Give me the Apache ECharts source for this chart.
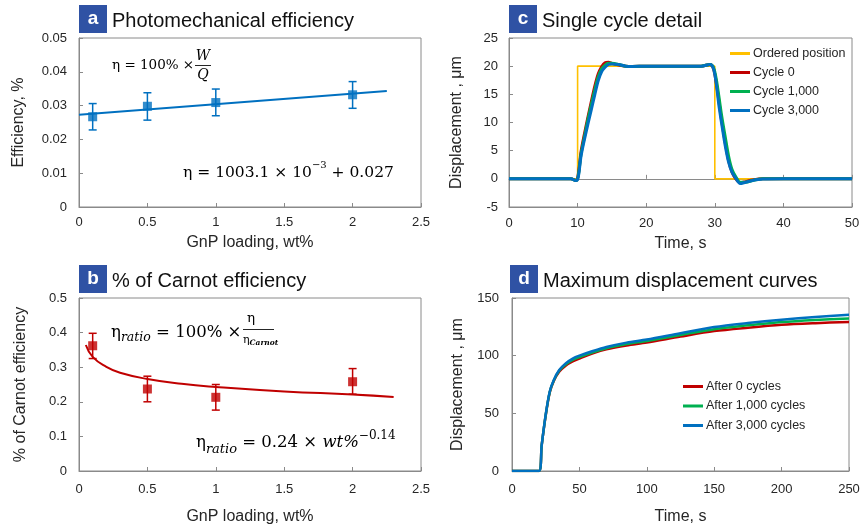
<!DOCTYPE html>
<html>
<head>
<meta charset="utf-8">
<script src="https://cdn.jsdelivr.net/npm/echarts@6/dist/echarts.min.js"></script>
<style>
html,body{margin:0;padding:0;background:#fff;}
#chart{width:863px;height:531px;}
</style>
</head>
<body>
<div id="chart"></div>
<script>
// ---------- Panel a: photomechanical efficiency ----------
const gnpLoading = [0.1, 0.5, 1, 2];
const effMean = [0.0267, 0.0298, 0.0309, 0.0332];
const effLow = [0.0228, 0.0257, 0.0270, 0.0292];
const effHigh = [0.0306, 0.0338, 0.0349, 0.0371];
const effFitX = [0, 2.25];
const effFitY = [0.0273, 0.0343];

// ---------- Panel b: % of Carnot efficiency ----------
const carnotMean = [0.362, 0.237, 0.213, 0.258];
const carnotLow = [0.325, 0.200, 0.176, 0.222];
const carnotHigh = [0.398, 0.274, 0.250, 0.296];
const carnotFitX = [0.05, 0.1, 0.2, 0.3, 0.5, 0.75, 1, 1.5, 2, 2.3];
const carnotFitY = [0.364, 0.330, 0.301, 0.284, 0.266, 0.252, 0.243, 0.230, 0.221, 0.214];

// ---------- Panel c: single cycle detail ----------
const orderedT = [0, 10, 10, 30, 30, 50];
const orderedY = [0, 0, 20, 20, 0, 0];
const cycleT = [0, 9, 9.8, 10.1, 10.5, 11, 11.5, 12, 12.5, 13, 13.5, 14, 14.5, 15, 16, 17, 18, 20, 25, 28, 29.3, 29.8, 30.2, 30.6, 31, 31.5, 32, 32.5, 33, 33.7, 34.5, 35.5, 37, 40, 50];
const cycle0 = [0, 0, -0.3, 0.8, 4.8, 8.0, 10.9, 13.7, 16.4, 18.6, 19.9, 20.6, 20.7, 20.5, 20.2, 20.0, 19.95, 20, 20, 20, 20.3, 19.6, 17.2, 13.8, 10.3, 6.6, 3.3, 1.2, 0.1, -0.7, -0.5, -0.2, 0, 0, 0];
const cycle1000 = [0, 0, -0.3, 0.6, 4.4, 7.5, 10.5, 13.2, 15.8, 18.1, 19.5, 20.2, 20.5, 20.5, 20.3, 20.0, 19.95, 20, 20, 20, 20.3, 19.8, 17.8, 14.6, 11.2, 7.6, 4.1, 1.7, 0.5, -0.6, -0.6, -0.3, 0, 0, 0];
const cycle3000 = [0, 0, -0.3, 0.3, 4.0, 7.0, 9.7, 12.3, 14.9, 17.4, 19.0, 19.8, 20.3, 20.4, 20.3, 20.0, 19.95, 20, 20, 20, 20.3, 19.6, 17.0, 13.0, 9.8, 6.0, 3.0, 1.2, 0.2, -0.85, -0.6, -0.3, -0.05, 0, 0];

// ---------- Panel d: maximum displacement curves ----------
const maxT = [0, 20, 22, 25, 28, 31, 35, 40, 45, 50, 60, 70, 85, 100, 125, 150, 175, 200, 225, 250];
const after0 = [0, 0, 22, 48, 68, 78, 86, 91.5, 95, 97.5, 102, 105.5, 108.8, 111.3, 116.5, 121.3, 124.3, 126.8, 128.2, 129.2];
const after1000 = [0, 0, 22, 48.5, 68.5, 78.5, 87, 92.5, 96.3, 98.8, 103, 106.5, 110, 112.8, 118, 123, 126.3, 129.2, 131, 132.3];
const after3000 = [0, 0, 22, 49, 69, 79, 87.5, 93.5, 97.5, 100, 104, 107.5, 111.3, 114, 119.5, 124.8, 128.3, 131.2, 133.5, 135.5];

const zip = (a, b) => a.map((v, i) => [v, b[i]]);
const zip3 = (a, b, c) => a.map((v, i) => [v, b[i], c[i]]);

const BLUE = '#0070C0', RED = '#C00000', GREEN = '#00B050', GOLD = '#FFC000';
const AXC = '#8a8a8a';
const FONT = 'Liberation Sans';
const SERIF = 'DejaVu Serif';
const TXT = '#262626';

function baseAxis(extra) {
  return Object.assign({
    type: 'value',
    axisLine: { show: true, onZero: false, lineStyle: { color: AXC, width: 1 } },
    axisTick: { show: true, inside: true, length: 4, lineStyle: { color: AXC } },
    splitLine: { show: false },
    axisLabel: { color: TXT, fontSize: 13, fontFamily: FONT },
    nameLocation: 'middle',
    nameTextStyle: { color: TXT, fontSize: 16, fontFamily: FONT }
  }, extra);
}

function errorBar(name, color, xi, yi, data) {
  return {
    type: 'custom', name: name, xAxisIndex: xi, yAxisIndex: yi,
    encode: { x: 0, y: [1, 2] },
    data: data, z: 2,
    renderItem: function (params, api) {
      const x = api.value(0), lo = api.value(1), hi = api.value(2);
      const p1 = api.coord([x, lo]), p2 = api.coord([x, hi]);
      const w = 4;
      const st = { stroke: color, lineWidth: 1.5, fill: null };
      return {
        type: 'group', children: [
          { type: 'line', shape: { x1: p1[0], y1: p1[1], x2: p2[0], y2: p2[1] }, style: st },
          { type: 'line', shape: { x1: p1[0] - w, y1: p1[1], x2: p1[0] + w, y2: p1[1] }, style: st },
          { type: 'line', shape: { x1: p2[0] - w, y1: p2[1], x2: p2[0] + w, y2: p2[1] }, style: st }
        ]
      };
    }
  };
}

function titleBox(x, y, letter, title) {
  return [
    { type: 'rect', shape: { x: x, y: y, width: 28, height: 28 }, style: { fill: '#2F52A4' } },
    { type: 'text', x: x + 14, y: y + 14, style: { text: letter, fill: '#fff', font: 'bold 19px ' + FONT, align: 'center', verticalAlign: 'middle' } },
    { type: 'text', x: x + 33, y: y + 16, style: { text: title, fill: '#111', font: '20px ' + FONT, align: 'left', verticalAlign: 'middle' } }
  ];
}

const richA2 = {
  m: { fontSize: 15.5, fontFamily: SERIF, lineHeight: 26, color: TXT },
  sup: { fontSize: 10, fontFamily: SERIF, lineHeight: 12, verticalAlign: 'top', color: TXT }
};
const richB2 = {
  m: { fontSize: 16.5, fontFamily: SERIF, lineHeight: 26, color: TXT },
  mi: { fontSize: 16.5, fontFamily: SERIF, fontStyle: 'italic', lineHeight: 26, color: TXT },
  sub: { fontSize: 13, fontFamily: SERIF, fontStyle: 'italic', lineHeight: 13, verticalAlign: 'bottom', color: TXT },
  sup: { fontSize: 12, fontFamily: SERIF, lineHeight: 12, verticalAlign: 'top', color: TXT }
};
const richA1 = {
  m: { fontSize: 13.5, fontFamily: SERIF, lineHeight: 20, color: TXT },
  mi: { fontSize: 14, fontFamily: SERIF, fontStyle: 'italic', lineHeight: 20, color: TXT }
};
const richB1 = {
  m: { fontSize: 16.5, fontFamily: SERIF, lineHeight: 22, color: TXT },
  sub: { fontSize: 12.5, fontFamily: SERIF, fontStyle: 'italic', lineHeight: 12, verticalAlign: 'bottom', color: TXT }
};
const richB1d = {
  m: { fontSize: 11, fontFamily: SERIF, lineHeight: 15, color: TXT },
  sub: { fontSize: 7.5, fontFamily: SERIF, fontStyle: 'italic', fontWeight: 'bold', lineHeight: 8, verticalAlign: 'bottom', color: TXT }
};

const graphics = [].concat(
  titleBox(79, 5, 'a', 'Photomechanical efficiency'),
  titleBox(79, 265, 'b', '% of Carnot efficiency'),
  titleBox(509, 5, 'c', 'Single cycle detail'),
  titleBox(510, 265, 'd', 'Maximum displacement curves'),
  [
    // panel a formulas
    { type: 'text', x: 112, y: 65, style: { text: '{m|η = 100% ×}', rich: richA1, align: 'left', verticalAlign: 'middle' } },
    { type: 'text', x: 203, y: 56, style: { text: '{mi|W}', rich: richA1, align: 'center', verticalAlign: 'middle' } },
    { type: 'line', shape: { x1: 195, y1: 65.5, x2: 211, y2: 65.5 }, style: { stroke: TXT, lineWidth: 1 } },
    { type: 'text', x: 203, y: 75, style: { text: '{mi|Q}', rich: richA1, align: 'center', verticalAlign: 'middle' } },
    { type: 'text', x: 183, y: 173, style: { text: '{m|η = 1003.1 × 10}{sup|−3}{m| + 0.027}', rich: richA2, align: 'left', verticalAlign: 'middle' } },
    // panel b formulas
    { type: 'text', x: 111, y: 333, style: { text: '{m|η}{sub|ratio}{m| = 100% ×}', rich: richB1, align: 'left', verticalAlign: 'middle' } },
    { type: 'text', x: 251, y: 318, style: { text: '{m|η}', rich: richA1, align: 'center', verticalAlign: 'middle' } },
    { type: 'line', shape: { x1: 243, y1: 329.5, x2: 274, y2: 329.5 }, style: { stroke: TXT, lineWidth: 1 } },
    { type: 'text', x: 243, y: 340, style: { text: '{m|η}{sub|Carnot}', rich: richB1d, align: 'left', verticalAlign: 'middle' } },
    { type: 'text', x: 196, y: 443, style: { text: '{m|η}{sub|ratio}{m| = 0.24 × }{mi|wt%}{sup|−0.14}', rich: richB2, align: 'left', verticalAlign: 'middle' } }
  ]
);

const option = {
  backgroundColor: '#fff',
  animation: false,
  textStyle: { fontFamily: FONT },
  grid: [
    { left: 79, top: 38, width: 342, height: 169, show: true, borderColor: AXC, borderWidth: 1 },
    { left: 79, top: 298, width: 342, height: 173, show: true, borderColor: AXC, borderWidth: 1 },
    { left: 509, top: 38, width: 343, height: 169, show: true, borderColor: AXC, borderWidth: 1 },
    { left: 512, top: 298, width: 337, height: 173, show: true, borderColor: AXC, borderWidth: 1 }
  ],
  xAxis: [
    baseAxis({ gridIndex: 0, min: 0, max: 2.5, interval: 0.5, name: 'GnP loading, wt%', nameGap: 28, axisLabel: { color: TXT, fontSize: 13, fontFamily: FONT, margin: 9 } }),
    baseAxis({ gridIndex: 1, min: 0, max: 2.5, interval: 0.5, name: 'GnP loading, wt%', nameGap: 38, axisLabel: { color: TXT, fontSize: 13, fontFamily: FONT, margin: 12 } }),
    baseAxis({ gridIndex: 2, min: 0, max: 50, interval: 10, name: 'Time, s', nameGap: 29, axisLabel: { color: TXT, fontSize: 13, fontFamily: FONT, margin: 10 } }),
    baseAxis({ gridIndex: 3, min: 0, max: 250, interval: 50, name: 'Time, s', nameGap: 38, axisLabel: { color: TXT, fontSize: 13, fontFamily: FONT, margin: 12 } }),
    // zero line for panel c
    { type: 'value', gridIndex: 2, position: 'top', min: 0, max: 50, interval: 10,
      axisLine: { show: true, onZero: true, lineStyle: { color: AXC, width: 1 } },
      axisTick: { show: true, inside: false, length: 4, lineStyle: { color: AXC } },
      axisLabel: { show: false }, splitLine: { show: false } }
  ],
  yAxis: [
    baseAxis({ gridIndex: 0, min: 0, max: 0.05, interval: 0.01, name: 'Efficiency, %', nameGap: 52, axisLabel: { color: TXT, fontSize: 13, fontFamily: FONT, margin: 12 } }),
    baseAxis({ gridIndex: 1, min: 0, max: 0.5, interval: 0.1, name: '% of Carnot efficiency', nameGap: 50, axisLabel: { color: TXT, fontSize: 13, fontFamily: FONT, margin: 12 } }),
    baseAxis({ gridIndex: 2, min: -5, max: 25, interval: 5, name: 'Displacement , μm', nameGap: 44, axisLabel: { color: TXT, fontSize: 13, fontFamily: FONT, margin: 11 } }),
    baseAxis({ gridIndex: 3, min: 0, max: 150, interval: 50, name: 'Displacement , μm', nameGap: 46, axisLabel: { color: TXT, fontSize: 13, fontFamily: FONT, margin: 13 } })
  ],
  legend: [
    { orient: 'vertical', left: 730, top: 47, padding: 0, itemWidth: 20, itemHeight: 3, itemGap: 6, icon: 'rect',
      textStyle: { color: TXT, fontSize: 12.5, fontFamily: FONT, padding: [0, 0, 0, -2] }, itemStyle: { borderWidth: 0 },
      data: ['Ordered position', 'Cycle 0', 'Cycle 1,000', 'Cycle 3,000'] },
    { orient: 'vertical', left: 683, top: 380, padding: 0, itemWidth: 20, itemHeight: 3, itemGap: 6.5, icon: 'rect',
      textStyle: { color: TXT, fontSize: 12.5, fontFamily: FONT, padding: [0, 0, 0, -2] }, itemStyle: { borderWidth: 0 },
      data: ['After 0 cycles', 'After 1,000 cycles', 'After 3,000 cycles'] }
  ],
  graphic: graphics,
  series: [
    // a
    { type: 'line', name: 'fitA', xAxisIndex: 0, yAxisIndex: 0, data: zip(effFitX, effFitY), showSymbol: false, symbol: 'none', lineStyle: { color: BLUE, width: 2 }, z: 1 },
    errorBar('errA', BLUE, 0, 0, zip3(gnpLoading, effLow, effHigh)),
    { type: 'scatter', name: 'ptsA', xAxisIndex: 0, yAxisIndex: 0, data: zip(gnpLoading, effMean), symbol: 'rect', symbolSize: 9, itemStyle: { color: BLUE }, z: 3 },
    // b
    { type: 'line', name: 'fitB', xAxisIndex: 1, yAxisIndex: 1, data: zip(carnotFitX, carnotFitY), smooth: true, showSymbol: false, symbol: 'none', lineStyle: { color: RED, width: 2 }, z: 1 },
    errorBar('errB', RED, 1, 1, zip3(gnpLoading, carnotLow, carnotHigh)),
    { type: 'scatter', name: 'ptsB', xAxisIndex: 1, yAxisIndex: 1, data: zip(gnpLoading, carnotMean), symbol: 'rect', symbolSize: 9, itemStyle: { color: RED }, z: 3 },
    // c
    { type: 'line', name: 'Ordered position', xAxisIndex: 2, yAxisIndex: 2, data: zip(orderedT, orderedY), symbol: 'none', lineStyle: { color: GOLD, width: 1.6 }, itemStyle: { color: GOLD } },
    { type: 'line', name: 'Cycle 0', xAxisIndex: 2, yAxisIndex: 2, data: zip(cycleT, cycle0), smooth: 0.3, symbol: 'none', lineStyle: { color: RED, width: 3 }, itemStyle: { color: RED } },
    { type: 'line', name: 'Cycle 1,000', xAxisIndex: 2, yAxisIndex: 2, data: zip(cycleT, cycle1000), smooth: 0.3, symbol: 'none', lineStyle: { color: GREEN, width: 3 }, itemStyle: { color: GREEN } },
    { type: 'line', name: 'Cycle 3,000', xAxisIndex: 2, yAxisIndex: 2, data: zip(cycleT, cycle3000), smooth: 0.3, symbol: 'none', lineStyle: { color: BLUE, width: 3 }, itemStyle: { color: BLUE } },
    // d
    { type: 'line', name: 'After 0 cycles', xAxisIndex: 3, yAxisIndex: 3, data: zip(maxT, after0), smooth: 0.3, symbol: 'none', lineStyle: { color: RED, width: 2.5 }, itemStyle: { color: RED } },
    { type: 'line', name: 'After 1,000 cycles', xAxisIndex: 3, yAxisIndex: 3, data: zip(maxT, after1000), smooth: 0.3, symbol: 'none', lineStyle: { color: GREEN, width: 2.5 }, itemStyle: { color: GREEN } },
    { type: 'line', name: 'After 3,000 cycles', xAxisIndex: 3, yAxisIndex: 3, data: zip(maxT, after3000), smooth: 0.3, symbol: 'none', lineStyle: { color: BLUE, width: 2.5 }, itemStyle: { color: BLUE } }
  ]
};

const chart = echarts.init(document.getElementById('chart'), null, { renderer: 'canvas' });
chart.setOption(option);
</script>
</body>
</html>
